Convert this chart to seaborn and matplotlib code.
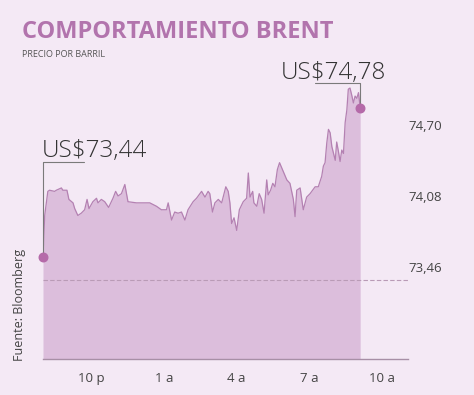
import numpy as np
import pandas as pd
import matplotlib
matplotlib.use("Agg")
import matplotlib.pyplot as plt
import seaborn as sns

# hours since 8 p.m.
hours = [0.00, 0.07, 0.20, 0.27, 0.48, 0.55, 0.76, 0.82, 0.99, 1.07,
         1.24, 1.31, 1.44, 1.58, 1.72, 1.82, 1.90, 2.06, 2.21, 2.27,
         2.41, 2.55, 2.71, 2.89, 3.00, 3.10, 3.24, 3.38, 3.51, 3.86,
         4.13, 4.41, 4.69, 4.89, 5.10, 5.17, 5.31, 5.44, 5.58, 5.72,
         5.86, 5.99, 6.20, 6.34, 6.55, 6.69, 6.82, 6.89, 7.00, 7.10,
         7.24, 7.38, 7.55, 7.65, 7.72, 7.79, 7.89, 8.00, 8.11, 8.27,
         8.41, 8.48, 8.55, 8.66, 8.71, 8.83, 8.93, 9.03, 9.13, 9.24,
         9.30, 9.40, 9.49, 9.58, 9.68, 9.77, 9.93, 10.07, 10.20, 10.34,
         10.41, 10.48, 10.62, 10.75, 10.89, 11.03, 11.24, 11.37, 11.51, 11.58,
         11.65, 11.72, 11.79, 11.86, 11.93, 12.00, 12.07, 12.13, 12.20, 12.27,
         12.34, 12.41, 12.48, 12.55, 12.61, 12.68, 12.76, 12.82, 12.89, 12.96,
         13.03, 13.10]
price = [73.55, 73.91, 74.12, 74.13, 74.12, 74.13, 74.15, 74.13, 74.13, 74.05,
         74.02, 73.97, 73.91, 73.93, 73.96, 74.05, 73.97, 74.03, 74.06, 74.02,
         74.05, 74.03, 73.98, 74.06, 74.12, 74.08, 74.10, 74.18, 74.03, 74.02,
         74.02, 74.02, 73.99, 73.96, 73.96, 74.02, 73.87, 73.94, 73.93, 73.94,
         73.87, 73.96, 74.03, 74.06, 74.12, 74.07, 74.12, 74.10, 73.94, 74.02,
         74.05, 74.02, 74.16, 74.12, 74.02, 73.84, 73.89, 73.78, 73.96, 74.03,
         74.06, 74.28, 74.07, 74.12, 74.02, 73.99, 74.10, 74.05, 73.93, 74.22,
         74.09, 74.13, 74.19, 74.16, 74.31, 74.37, 74.29, 74.22, 74.19, 74.05,
         73.90, 74.13, 74.15, 73.96, 74.07, 74.10, 74.16, 74.16, 74.25, 74.34,
         74.37, 74.54, 74.66, 74.63, 74.51, 74.45, 74.39, 74.55, 74.47, 74.38,
         74.48, 74.45, 74.72, 74.83, 75.01, 75.02, 74.95, 74.89, 74.95, 74.93,
         74.98, 74.85]

tick_hours = [2, 5, 8, 11, 14]
tick_names = ["10 p", "1 a", "4 a", "7 a", "10 a"]
y_ticks = [73.46, 74.08, 74.70]
y_names = ["73,46", "74,08", "74,70"]
ref_level = 73.35
first_label = "US$73,44"
last_label = "US$74,78"

bg = "#f4e9f5"
fill_c = "#dcbedc"
line_c = "#b481b2"
dot_c = "#b56aa9"
title_c = "#b274ad"

sns.set_style("white")
plt.rcParams['font.family'] = ['Open Sans', 'DejaVu Sans']

df = pd.DataFrame({"h": hours, "p": price})

fig = plt.figure(figsize=(4.74, 3.95), dpi=100, facecolor=bg)
ax = fig.add_axes([0.0907, 0.0911, 0.7703, 0.7064], facecolor=bg)

ax.fill_between(df["h"], df["p"], 72.0, color=fill_c, lw=0)
sns.lineplot(data=df, x="h", y="p", ax=ax, color=line_c, lw=0.9)
ax.axhline(ref_level, color="#b99bb6", lw=0.8, ls=(0, (4, 2)))

ax.set_xlim(0, 15.08)
ax.set_ylim(72.66, 75.09)
ax.set_xlabel("")
ax.set_ylabel("")

ax.set_xticks(tick_hours)
ax.set_xticklabels(tick_names, fontsize=9.5, color="#444444")
ax.tick_params(axis="x", length=3, width=0.8, color="#a78fa6", pad=6)
ax.yaxis.tick_right()
ax.set_yticks(y_ticks)
ax.set_yticklabels(y_names, fontsize=9.5, color="#444444")
ax.tick_params(axis="y", length=0, pad=0)

for s in ["top", "right", "left"]:
    ax.spines[s].set_visible(False)
ax.spines["bottom"].set_color("#a78fa6")
ax.spines["bottom"].set_linewidth(1.0)

# end points and leader lines
x0, y0 = df["h"].iloc[0], df["p"].iloc[0]
x1, y1 = df["h"].iloc[-1], df["p"].iloc[-1]
ax.scatter([x0, x1], [y0, y1], s=38, color=dot_c, zorder=5, clip_on=False)
ax.plot([x0, x0, x0 + 1.7], [y0, 74.38, 74.38], color="#7a7a7a", lw=0.8, clip_on=False)
ax.plot([x1, x1, x1 - 1.87], [y1, 75.06, 75.06], color="#7a7a7a", lw=0.8, clip_on=False)
ax.text(x0 - 0.05, 74.42, first_label, fontsize=17.5, fontweight="light",
        color="#333333", ha="left", va="baseline")
ax.text(x1 - 3.3, 75.10, last_label, fontsize=17.5, fontweight="light",
        color="#333333", ha="left", va="baseline")

fig.text(0.046, 0.919, "COMPORTAMIENTO BRENT", fontsize=17, fontweight="bold",
         color=title_c, ha="left", va="center")
fig.text(0.046, 0.863, "PRECIO POR BARRIL", fontsize=6.5, color="#555555",
         ha="left", va="center")
fig.text(0.042, 0.228, "Fuente: Bloomberg", fontsize=9, color="#444444",
         rotation=90, ha="center", va="center")

fig.savefig("out.png", dpi=100, facecolor=bg)
